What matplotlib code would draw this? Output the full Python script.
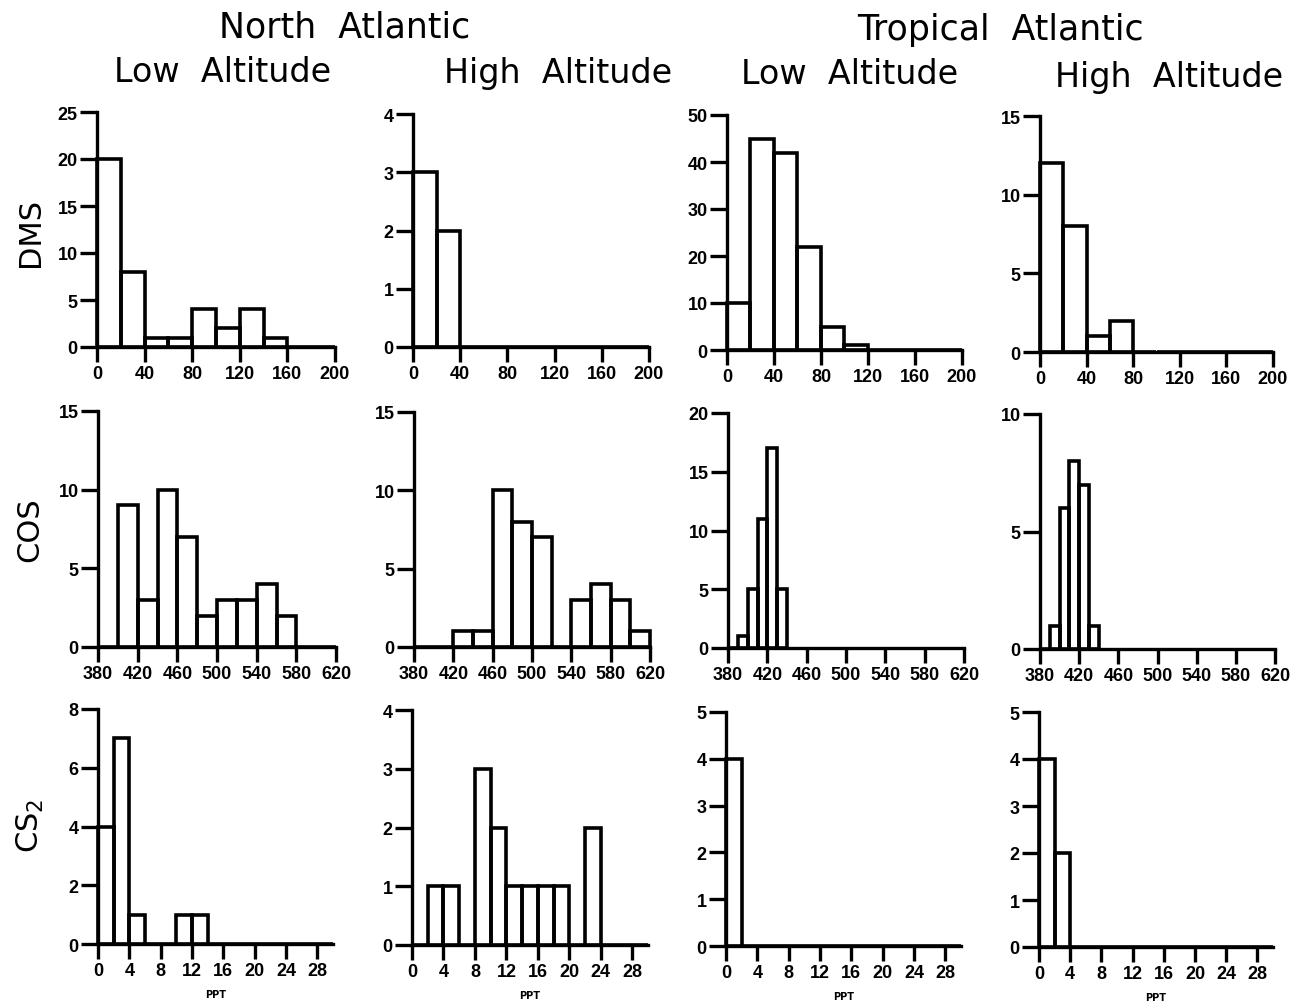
import numpy as np
from matplotlib import pyplot as plt

#   Bin edges for each gas (ppt)
dms_edges = np.arange(0, 201, 20)
cos_edges_na = np.arange(380, 621, 20)
cos_edges_ta = np.arange(380, 441, 10)
cs2_edges = np.arange(0, 31, 2)

#   Counts per bin
dms_na_low = [20, 8, 1, 1, 4, 2, 4, 1, 0, 0]
dms_na_high = [3, 2, 0, 0, 0, 0, 0, 0, 0, 0]
dms_ta_low = [10, 45, 42, 22, 5, 1, 0, 0, 0, 0]
dms_ta_high = [12, 8, 1, 2, 0, 0, 0, 0, 0, 0]

cos_na_low = [0, 9, 3, 10, 7, 2, 3, 3, 4, 2, 0, 0]
cos_na_high = [0, 0, 1, 1, 10, 8, 7, 0, 3, 4, 3, 1]
cos_ta_low = [0, 1, 5, 11, 17, 5]
cos_ta_high = [0, 1, 6, 8, 7, 1]

cs2_na_low = [4, 7, 1, 0, 0, 1, 1, 0, 0, 0, 0, 0, 0, 0, 0]
cs2_na_high = [0, 1, 1, 0, 3, 2, 1, 1, 1, 1, 0, 2, 0, 0, 0]
cs2_ta_low = [4, 0, 0, 0, 0, 0, 0, 0, 0, 0, 0, 0, 0, 0, 0]
cs2_ta_high = [4, 2, 0, 0, 0, 0, 0, 0, 0, 0, 0, 0, 0, 0, 0]

#   Axis settings per row
dms_xticks = [0, 40, 80, 120, 160, 200]
cos_xticks = [380, 420, 460, 500, 540, 580, 620]
cs2_xticks = [0, 4, 8, 12, 16, 20, 24, 28]

dms_ymax = [25, 4, 50, 15]
dms_ystep = [5, 1, 10, 5]
cos_ymax = [15, 15, 20, 10]
cos_ystep = [5, 5, 5, 5]
cs2_ymax = [8, 4, 5, 5]
cs2_ystep = [2, 1, 1, 1]

W, H = 1299, 1004

#   Panel boxes in pixels: (left, right, top, zero line)
boxes = [
    [(97, 335, 113, 348), (413, 649, 115, 348), (727, 962, 116, 351), (1040, 1273, 117, 353)],
    [(98, 336, 412, 648), (414, 650, 413, 648), (728, 964, 414, 649), (1040, 1275, 415, 650)],
    [(98, 333, 710, 945), (412, 648, 711, 946), (726, 961, 713, 947), (1039, 1273, 713, 948)],
]

rows = [
    ([dms_edges] * 4, [dms_na_low, dms_na_high, dms_ta_low, dms_ta_high],
     dms_xticks, (0, 200), dms_ymax, dms_ystep),
    ([cos_edges_na, cos_edges_na, cos_edges_ta, cos_edges_ta],
     [cos_na_low, cos_na_high, cos_ta_low, cos_ta_high],
     cos_xticks, (380, 620), cos_ymax, cos_ystep),
    ([cs2_edges] * 4, [cs2_na_low, cs2_na_high, cs2_ta_low, cs2_ta_high],
     cs2_xticks, (0, 30), cs2_ymax, cs2_ystep),
]

plt.rcParams['font.family'] = ['DejaVu Sans']

fig = plt.figure(figsize=(W / 100, H / 100), dpi=100)

tick_font = {'family': 'Liberation Sans', 'weight': 'bold', 'size': 13}

for r, (edge_list, counts_list, xticks, xlim, ymaxs, ysteps) in enumerate(rows):
    for c in range(4):
        left, right, top, zero = boxes[r][c]
        ax = fig.add_axes([left / W, 1 - zero / H, (right - left) / W, (zero - top) / H])
        edges = edge_list[c]
        counts = counts_list[c]

        #   Draw the histogram as open bars
        ax.bar(edges[:-1], counts, width=np.diff(edges), align='edge',
               fill=False, edgecolor='black', linewidth=2.6, clip_on=False)

        ax.set_xlim(*xlim)
        ax.set_ylim(0, ymaxs[c])
        ax.set_xticks(xticks)
        ax.set_yticks(np.arange(0, ymaxs[c] + 1, ysteps[c]))
        for s in ['top', 'right']:
            ax.spines[s].set_visible(False)
        for s in ['left', 'bottom']:
            ax.spines[s].set_linewidth(2.4)
        ax.tick_params(axis='y', direction='out', length=12, width=2.4, pad=2)
        ax.tick_params(axis='x', direction='out', length=11, width=2.4, pad=2)
        for lab in ax.get_xticklabels() + ax.get_yticklabels():
            lab.set_fontproperties(tick_font)

        if r == 2:
            ax.set_xlabel('PPT', fontsize=7, fontweight='bold', labelpad=7)

#   Column and region titles
fig.text(345 / W, 1 - 28 / H, 'North  Atlantic', ha='center', va='center', fontsize=25)
fig.text(1000 / W, 1 - 30 / H, 'Tropical  Atlantic', ha='center', va='center', fontsize=25)
fig.text(223 / W, 1 - 73 / H, 'Low  Altitude', ha='center', va='center', fontsize=24)
fig.text(558 / W, 1 - 73 / H, 'High  Altitude', ha='center', va='center', fontsize=24)
fig.text(850 / W, 1 - 75 / H, 'Low  Altitude', ha='center', va='center', fontsize=24)
fig.text(1169 / W, 1 - 77 / H, 'High  Altitude', ha='center', va='center', fontsize=24)

#   Row labels
fig.text(30 / W, 1 - 232 / H, 'DMS', rotation=90, ha='center', va='center', fontsize=22)
fig.text(30 / W, 1 - 530 / H, 'COS', rotation=90, ha='center', va='center', fontsize=22)
fig.text(30 / W, 1 - 826 / H, 'CS$_2$', rotation=90, ha='center', va='center', fontsize=22)

fig.savefig('out.png', dpi=100)
